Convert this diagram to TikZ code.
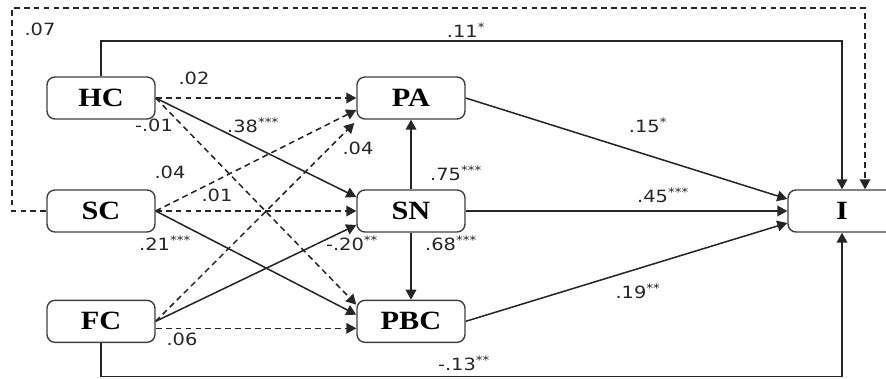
\documentclass[tikz,border=0pt]{standalone}
\usepackage{fontspec}
\usepackage{tikz}
\newfontfamily\boxfont[FakeStretch=1.15]{Liberation Serif}
\newfontfamily\coeffont[FakeStretch=1.15]{DejaVu Sans}
\usetikzlibrary{arrows.meta,calc}

\begin{document}
\begin{tikzpicture}[
    box/.style={draw=black!75, line width=1.2pt, rounded corners=0.24cm,
        minimum width=3.24cm, minimum height=1.26cm, inner sep=0pt,
        font=\boxfont\bfseries\fontsize{22.5}{24}\selectfont},
    sig/.style={-{Triangle[length=3mm,width=3.2mm]}, line width=1.3pt, black!85},
    nonsig/.style={sig, dash pattern=on 5pt off 3.5pt},
    coef/.style={font=\coeffont\fontsize{14.4}{16}\selectfont, text=black!85, inner sep=0pt}
]
\useasboundingbox (0,0) rectangle (26.58,11.34);

% constructs
\node[box] (HC) at (3.03,8.4) {HC};
\node[box] (SC) at (3.03,5.01) {SC};
\node[box] (FC) at (3.03,1.7) {FC};
\node[box] (PA) at (12.33,8.4) {PA};
\node[box] (SN) at (12.33,5.01) {SN};
\node[box] (PBC) at (12.33,1.7) {PBC};
\node[box] (I) at (25.26,5.01) {I};

\coordinate (outer) at (0.36,11.1);
\coordinate (top) at (0,10.11);
\coordinate (low) at (0,0.05);

% paths from the left column
\draw[nonsig] (HC.east) -- (PA.west);
\draw[sig] (HC.east) -- ([yshift=0.42cm]SN.west);
\draw[nonsig] (HC.east) -- ([yshift=0.5cm]PBC.west);
\draw[nonsig] (SC.east) -- ([yshift=-0.36cm]PA.west);
\draw[nonsig] (SC.east) -- (SN.west);
\draw[sig] (SC.east) -- ([yshift=0.2cm]PBC.west);
\draw[nonsig] (FC.east) -- ([xshift=-0.06cm,yshift=-0.75cm]PA.west);
\draw[sig] (FC.east) -- ([yshift=-0.42cm]SN.west);
\draw[nonsig] ([yshift=-0.21cm]FC.east) -- ([yshift=-0.21cm]PBC.west);

% middle column
\draw[sig] (SN.north) -- (PA.south);
\draw[sig] (SN.south) -- (PBC.north);
\draw[sig] (PA.east) -- ([yshift=0.36cm]I.west);
\draw[sig] (SN.east) -- (I.west);
\draw[sig] (PBC.east) -- ([yshift=-0.36cm]I.west);

% direct paths to I
\draw[sig] (HC.north) -- (HC.north |- top) -| (I.north);
\draw[nonsig] (SC.west) -| (outer) -| ([xshift=0.69cm]I.north);
\draw[sig] (FC.south) -- (FC.south |- low) -| (I.south);

% coefficients
\node[coef] (c07) at (1.2,10.47) {.07};
\node[coef] (c11) at (13.98,10.44) {.11\textsuperscript{*}};
\node[coef] (c02) at (5.82,8.99) {.02};
\node[coef] (cm01) at (4.62,7.59) {-.01};
\node[coef] (c38) at (7.59,7.59) {.38\textsuperscript{***}};
\node[coef] (c04a) at (10.74,6.9) {.04};
\node[coef] (c04b) at (5.1,6.18) {.04};
\node[coef] (c01) at (6.51,5.49) {.01};
\node[coef] (c21) at (4.95,4.05) {.21\textsuperscript{***}};
\node[coef] (cm20) at (10.56,4.05) {-.20\textsuperscript{**}};
\node[coef] (c06) at (5.46,1.17) {.06};
\node[coef] (c75) at (13.68,6.15) {.75\textsuperscript{***}};
\node[coef] (c68) at (13.53,4.05) {.68\textsuperscript{***}};
\node[coef] (c15) at (19.44,7.59) {.15\textsuperscript{*}};
\node[coef] (c45) at (19.89,5.49) {.45\textsuperscript{***}};
\node[coef] (c19) at (19.14,2.61) {.19\textsuperscript{**}};
\node[coef] (cm13) at (13.92,0.45) {-.13\textsuperscript{**}};
\end{tikzpicture}
\end{document}
